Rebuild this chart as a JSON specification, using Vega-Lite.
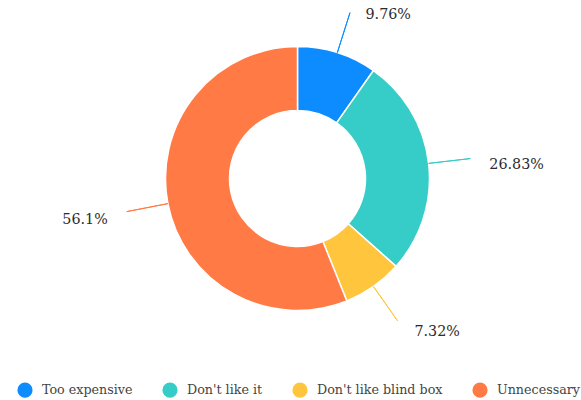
{
  "$schema": "https://vega.github.io/schema/vega-lite/v6.json",
  "width": 567,
  "height": 357,
  "autosize": {"type": "none"},
  "padding": {"left": 14, "top": 0, "right": 0, "bottom": 43},
  "background": "white",
  "config": {"view": {"stroke": null}, "font": "DejaVu Serif"},
  "data": {
    "values": [
      {"category": "Too expensive", "order": 1, "value": 0.0976},
      {"category": "Don't like it", "order": 2, "value": 0.2683},
      {"category": "Don't like blind box", "order": 3, "value": 0.0732},
      {"category": "Unnecessary", "order": 4, "value": 0.561}
    ]
  },
  "layer": [
    {
      "mark": {"type": "arc", "innerRadius": 68, "outerRadius": 132, "stroke": "#ffffff", "strokeWidth": 1.5},
      "encoding": {
        "theta": {"field": "value", "type": "quantitative", "stack": true, "scale": {"domain": [0, 1.0001]}},
        "order": {"field": "order", "type": "quantitative"},
        "color": {
          "field": "category",
          "type": "nominal",
          "scale": {
            "domain": ["Too expensive", "Don't like it", "Don't like blind box", "Unnecessary"],
            "range": ["#0d8cff", "#36cdc8", "#ffc53d", "#ff7a45"]
          },
          "legend": {
            "orient": "bottom",
            "direction": "horizontal",
            "title": null,
            "symbolType": "circle",
            "symbolSize": 230,
            "symbolStrokeWidth": 0,
            "labelFont": "DejaVu Serif",
            "labelFontSize": 12.7,
            "labelColor": "#444444",
            "labelOffset": 9,
            "columnPadding": 29,
            "padding": 3,
            "offset": 22
          }
        }
      }
    },
    {
      "transform": [
        {"stack": "value", "groupby": [], "sort": [{"field": "order", "order": "ascending"}], "as": ["s0", "s1"]},
        {"fold": ["s0", "s1"], "as": ["edge_name", "edge"]},
        {"aggregate": [{"op": "mean", "field": "edge", "as": "mid"}], "groupby": ["category", "order", "value"]}
      ],
      "mark": {"type": "arc", "innerRadius": 132, "outerRadius": 174, "strokeWidth": 1, "fillOpacity": 0},
      "encoding": {
        "theta": {"field": "mid", "type": "quantitative", "stack": null, "scale": {"domain": [0, 1.0001]}},
        "theta2": {"field": "mid"},
        "stroke": {
          "field": "category",
          "type": "nominal",
          "scale": {
            "domain": ["Too expensive", "Don't like it", "Don't like blind box", "Unnecessary"],
            "range": ["#0d8cff", "#36cdc8", "#ffc53d", "#ff7a45"]
          },
          "legend": null
        }
      }
    },
    {
      "transform": [
        {"stack": "value", "groupby": [], "sort": [{"field": "order", "order": "ascending"}], "as": ["s0", "s1"]},
        {"fold": ["s0", "s1"], "as": ["edge_name", "edge"]},
        {"aggregate": [{"op": "mean", "field": "edge", "as": "mid"}], "groupby": ["category", "order", "value"]},
        {"filter": "datum.mid < 0.5"}
      ],
      "mark": {"type": "text", "radius": 179, "align": "left", "baseline": "middle", "dx": 14, "dy": 7, "font": "DejaVu Serif", "fontSize": 14.3, "fill": "#2b2b2b"},
      "encoding": {
        "theta": {"field": "mid", "type": "quantitative", "stack": null, "scale": {"domain": [0, 1.0001]}},
        "text": {"field": "value", "type": "quantitative", "format": ".2~%"}
      }
    },
    {
      "transform": [
        {"stack": "value", "groupby": [], "sort": [{"field": "order", "order": "ascending"}], "as": ["s0", "s1"]},
        {"fold": ["s0", "s1"], "as": ["edge_name", "edge"]},
        {"aggregate": [{"op": "mean", "field": "edge", "as": "mid"}], "groupby": ["category", "order", "value"]},
        {"filter": "datum.mid >= 0.5"}
      ],
      "mark": {"type": "text", "radius": 179, "align": "right", "baseline": "middle", "dx": -14, "dy": 7, "font": "DejaVu Serif", "fontSize": 14.3, "fill": "#2b2b2b"},
      "encoding": {
        "theta": {"field": "mid", "type": "quantitative", "stack": null, "scale": {"domain": [0, 1.0001]}},
        "text": {"field": "value", "type": "quantitative", "format": ".2~%"}
      }
    }
  ]
}
